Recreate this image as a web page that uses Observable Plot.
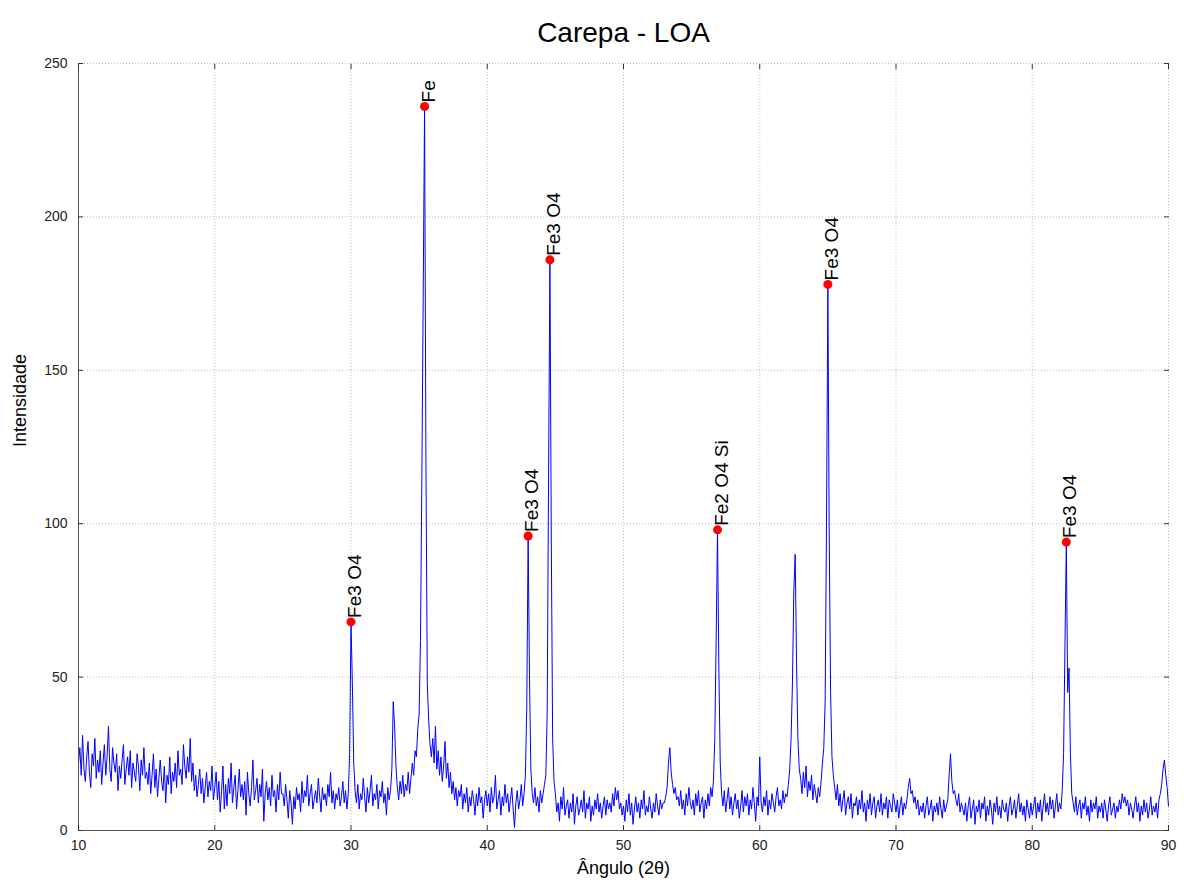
<!DOCTYPE html>
<html><head><meta charset="utf-8">
<script src="https://cdn.jsdelivr.net/npm/d3@7"></script>
<script src="https://cdn.jsdelivr.net/npm/@observablehq/plot@0.6"></script>
<style>body{margin:0;background:#fff} svg{display:block}</style>
</head><body><div id="chart"></div>
<script>
// Intensity readings, 0.1° steps of 2θ
const c10 = [22,27,18,31,20,16,24,29,19,14,25,21,30,17,23,19,26,15,22,28,18,24,34,20,16,27,22,19,25,13,21,17,23,28,15,20,24,18,26,14,22,19,16,25,21,13,23,18,27,17];
const c15 = [19,15,22,12,18,25,14,20,11,17,23,16,13,21,9,18,15,24,12,19,16,22,14,26,18,20,15,28,21,17,24,19,30,16,22,13,18,11,15,20,12,17,9,14,19,11,16,13,21,10];
const c20 = [14,19,10,16,6,13,21,7,15,8,17,12,22,9,14,18,7,13,20,11,15,10,16,5,19,12,8,14,23,10,13,17,9,15,11,20,3,12,16,10,14,8,18,11,13,6,15,10,19,12];
const c25 = [12,8,15,10,4,13,9,2,11,7,14,10,12,6,16,9,13,11,18,8,12,15,7,10,13,9,17,11,6,14,10,12,8,15,11,19,9,13,7,12,10,14,8,11,16,9,13,7,12,25];
const c30 = [68,48,22,13,9,15,7,12,10,17,11,6,14,9,13,18,8,12,10,15,7,13,11,16,9,12,5,14,10,13,20,42,34,21,14,10,16,12,18,11,15,13,19,12,17,22,18,26,24,33];
const c35 = [38,62,115,175,236,120,48,36,28,24,30,22,34,20,26,18,24,16,21,29,17,22,14,19,12,16,10,14,8,13,11,15,7,12,9,14,6,11,8,13,10,5,12,8,14,9,11,4,10,13];
const c40 = [8,12,6,14,9,11,18,7,10,13,5,11,8,15,9,12,6,10,14,7,1,9,13,7,10,15,8,12,18,40,96,50,20,12,9,14,8,11,6,13,9,12,15,18,38,115,186,95,30,16];
const c45 = [12,6,9,3,11,7,14,5,8,10,4,9,6,12,2,8,11,5,7,10,6,13,4,9,7,11,3,8,5,10,7,12,6,9,4,8,11,5,10,7,9,6,12,8,14,10,13,7,9,5];
const c50 = [8,3,10,6,12,5,9,2,7,11,6,9,4,10,7,13,5,8,6,11,7,4,9,6,12,8,5,10,7,9,9,11,14,22,27,19,15,12,14,10,11,8,13,7,10,5,12,8,14,9];
const c55 = [7,10,5,12,8,13,6,9,11,4,10,7,12,8,14,11,16,30,62,98,52,22,12,8,13,6,10,14,7,11,5,9,12,7,10,4,8,13,6,11,8,12,5,10,7,14,9,3,11,8];
const c60 = [24,9,6,11,8,13,5,10,7,12,9,6,11,14,8,10,7,13,9,12,11,15,20,30,48,78,90,55,30,20,17,12,19,14,21,11,16,13,18,10,15,12,9,14,11,16,22,27,42,100];
const c65 = [178,95,45,24,18,14,10,15,8,12,6,10,13,5,9,11,7,12,4,9,8,11,5,10,7,13,6,9,3,10,7,12,5,9,11,4,8,10,6,12,5,9,7,11,4,10,8,6,12,9];
const c70 = [6,10,4,8,11,5,9,7,10,14,17,12,13,9,11,7,10,5,8,6,9,4,8,11,5,7,10,3,8,6,9,5,11,7,4,10,6,8,10,18,25,16,12,13,10,8,12,6,9,7];
const c75 = [5,9,3,8,11,4,7,10,2,8,6,10,4,9,7,11,3,8,5,10,7,2,9,6,11,5,8,4,10,7,6,9,3,8,11,5,7,10,4,8,12,6,9,5,8,3,10,7,4,9];
const c80 = [5,8,11,4,9,6,10,3,8,12,6,9,5,11,7,10,4,8,12,6,9,7,13,25,60,94,45,53,25,12,9,6,11,5,8,10,4,9,7,11,5,8,3,10,6,9,7,11,4,8];
const c85 = [6,9,4,10,7,3,8,11,5,7,9,4,8,6,10,7,12,9,11,8,10,5,9,7,4,8,11,6,9,3,8,5,10,6,9,4,7,11,5,8,6,9,4,10,12,15,20,23,18,14];
const c90 = [8];

const startAngle = 10, stepAngle = 0.1;

// Identified peaks
const peakAngles = [30.0, 35.4, 43.0, 44.6, 56.9, 65.0, 82.5];
const peakIntensity = [68, 236, 96, 186, 98, 178, 94];
const peakLabels = ["Fe3 O4", "Fe", "Fe3 O4", "Fe3 O4", "Fe2 O4 Si", "Fe3 O4", "Fe3 O4"];

const xTicks = [10, 20, 30, 40, 50, 60, 70, 80, 90];
const yTicks = [0, 50, 100, 150, 200, 250];

const titleText = "Carepa - LOA";
const xTitle = "Ângulo (2θ)";
const yTitle = "Intensidade";

const intensity = [].concat(c10, c15, c20, c25, c30, c35, c40, c45, c50, c55, c60, c65, c70, c75, c80, c85, c90);
const data = intensity.map((v, i) => ({angle: +(startAngle + i * stepAngle).toFixed(2), v}));
const peaks = peakAngles.map((a, i) => ({angle: a, v: peakIntensity[i], label: peakLabels[i]}));

const font = "'Liberation Sans', Arial, sans-serif";
const blank = () => "";

const chart = Plot.plot({
  width: 1184, height: 887,
  marginLeft: 78, marginRight: 16, marginTop: 63, marginBottom: 57,
  style: {fontFamily: font, background: "#fff", color: "#222"},
  x: {domain: [10, 90]},
  y: {domain: [0, 250]},
  marks: [
    Plot.gridX(xTicks, {stroke: "#bdbdbd", strokeOpacity: 1, strokeDasharray: "1,2"}),
    Plot.gridY(yTicks, {stroke: "#bdbdbd", strokeOpacity: 1, strokeDasharray: "1,2"}),
    Plot.line(data, {x: "angle", y: "v", stroke: "#0000ff", strokeWidth: 1}),
    Plot.ruleX([10], {stroke: "#555"}),
    Plot.ruleY([0], {stroke: "#555"}),
    Plot.axisX(xTicks, {anchor: "bottom", tickSize: 0, tickPadding: 10, fontSize: 14, label: null}),
    Plot.axisX(xTicks, {anchor: "bottom", tickSize: -5, tickFormat: blank, label: null, stroke: "#333"}),
    Plot.axisX(xTicks, {anchor: "top", tickSize: -5, tickFormat: blank, label: null, stroke: "#333"}),
    Plot.axisY(yTicks, {anchor: "left", tickSize: 0, tickPadding: 11, fontSize: 14, label: null}),
    Plot.axisY(yTicks, {anchor: "left", tickSize: -5, tickFormat: blank, label: null, stroke: "#333"}),
    Plot.axisY(yTicks, {anchor: "right", tickSize: -5, tickFormat: blank, label: null, stroke: "#333"}),
    Plot.dot(peaks, {x: "angle", y: "v", r: 4.5, fill: "#ff0000"}),
    Plot.text(peaks, {x: "angle", y: "v", text: "label", rotate: -90, textAnchor: "start", dx: 4, dy: -4, fontSize: 19, fill: "#000"}),
    Plot.text([titleText], {text: d => d, frameAnchor: "top", dy: -41, fontSize: 28, fill: "#000"}),
    Plot.text([xTitle], {text: d => d, frameAnchor: "bottom", dy: 43, fontSize: 18, fill: "#000"}),
    Plot.text([yTitle], {text: d => d, frameAnchor: "left", dx: -58, rotate: -90, fontSize: 18, fill: "#000"})
  ]
});
document.getElementById("chart").appendChild(chart);
</script>
</body></html>
